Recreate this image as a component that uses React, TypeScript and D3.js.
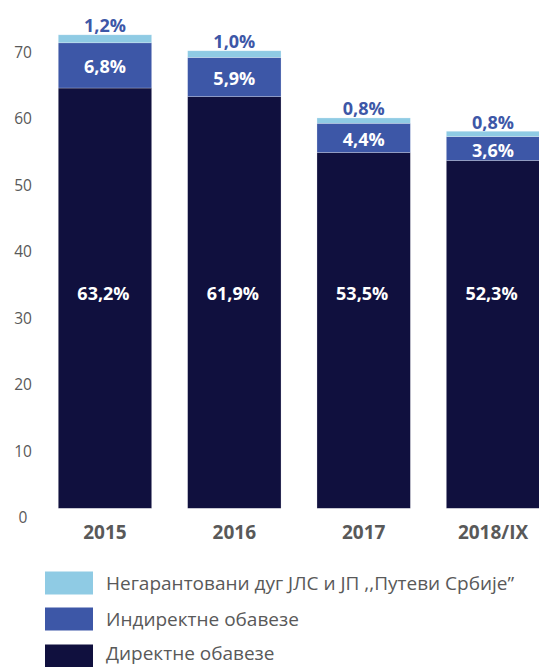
import React from "react";
import * as d3 from "d3";

const categories = ["2015", "2016", "2017", "2018/IX"];
const direct = [63.2, 61.9, 53.5, 52.3];
const indirect = [6.8, 5.9, 4.4, 3.6];
const nonGuaranteed = [1.2, 1.0, 0.8, 0.8];
const yTicks = [0, 10, 20, 30, 40, 50, 60, 70];
const seriesNames = [
  "Негарантовани дуг ЈЛС и ЈП ,,Путеви Србије”",
  "Индиректне обавезе",
  "Директне обавезе",
];
const colors = { light: "#8FCBE4", mid: "#3D57A7", dark: "#10103E" };

const fmt = (v: number) => v.toFixed(1).replace(".", ",") + "%";

export default function App() {
  const W = 539, H = 667;
  const x = d3.scaleBand<string>().domain(categories).range([40.3, 557.7]).paddingInner(0.278).paddingOuter(0.139);
  const y = d3.scaleLinear().domain([0, 70]).range([508.3, 42.8]);
  const font = "'Open Sans', sans-serif";
  const gray = "#595959";

  const rows = categories.map((c, i) => {
    const d0 = 0, d1 = direct[i];
    const i1 = d1 + indirect[i];
    const n1 = i1 + nonGuaranteed[i];
    return { c, i, d0, d1, i1, n1 };
  });

  const stroke = "rgba(255,255,255,0.4)";

  return (
    <svg width={W} height={H} style={{ position: "absolute", left: 0, top: 0 }} fontFamily={font}>
      {yTicks.map((t) => (
        <text key={t} x={23} y={y(t) + 9} textAnchor="middle" dominantBaseline="central" fontSize={15.5} fill={gray}>
          {t}
        </text>
      ))}
      {rows.map((r) => {
        const bx = x(r.c)!;
        const bw = x.bandwidth();
        const cx = bx + bw / 2;
        return (
          <g key={r.c}>
            <rect x={bx} y={y(r.d1)} width={bw} height={y(r.d0) - y(r.d1)} fill={colors.dark} stroke={stroke} strokeWidth={0.6} />
            <rect x={bx} y={y(r.i1)} width={bw} height={y(r.d1) - y(r.i1)} fill={colors.mid} stroke={stroke} strokeWidth={0.6} />
            <rect x={bx} y={y(r.n1)} width={bw} height={y(r.i1) - y(r.n1)} fill={colors.light} stroke={stroke} strokeWidth={0.6} />
            <text x={cx - 1.5} y={292.7} textAnchor="middle" dominantBaseline="central" fontSize={18} fontWeight={700} fill="#ffffff">
              {fmt(direct[r.i])}
            </text>
            <text x={cx} y={(y(r.d1) + y(r.i1)) / 2 + 1} textAnchor="middle" dominantBaseline="central" fontSize={18} fontWeight={700} fill="#ffffff">
              {fmt(indirect[r.i])}
            </text>
            <text x={cx} y={y(r.n1) - 9.5} textAnchor="middle" dominantBaseline="central" fontSize={18} fontWeight={700} fill={colors.mid}>
              {fmt(nonGuaranteed[r.i])}
            </text>
            <text x={cx} y={531.5} textAnchor="middle" dominantBaseline="central" fontSize={19} fontWeight={700} fill={gray}>
              {r.c}
            </text>
          </g>
        );
      })}
      {seriesNames.map((name, k) => {
        const cy = [583, 619, 656][k];
        const ty = [583, 619, 653][k];
        const fill = [colors.light, colors.mid, colors.dark][k];
        return (
          <g key={name}>
            <rect x={45} y={cy - 11.5} width={48} height={23} fill={fill} />
            <text x={106} y={ty} dominantBaseline="central" fontSize={19} fill={gray}>
              {name}
            </text>
          </g>
        );
      })}
    </svg>
  );
}
